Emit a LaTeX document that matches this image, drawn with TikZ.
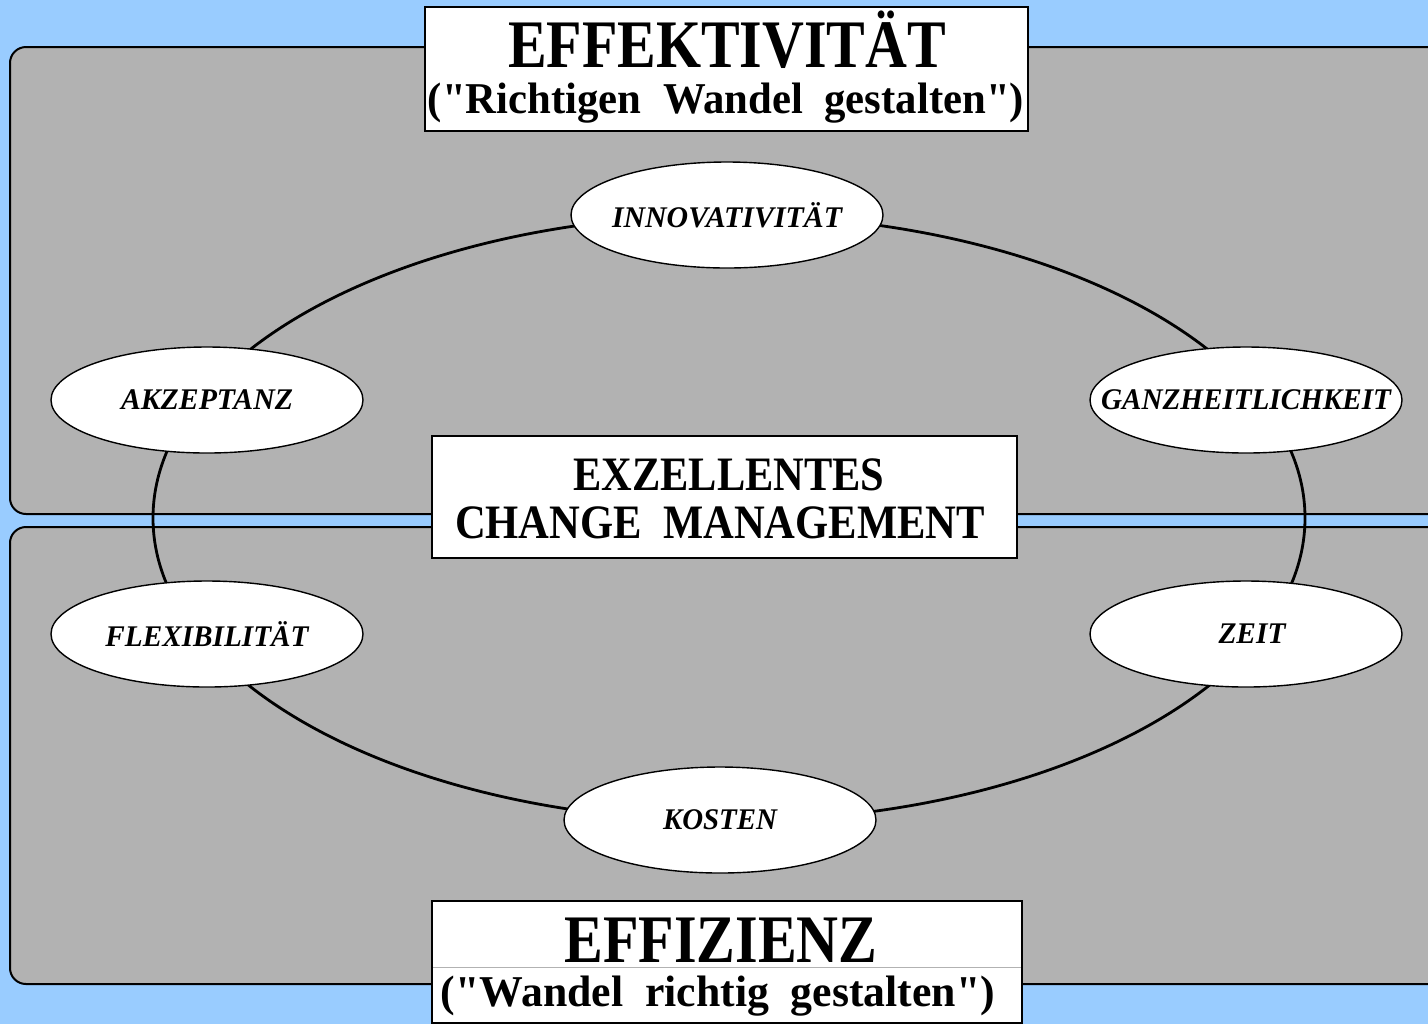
\documentclass[tikz,border=0pt]{standalone}
\usepackage{fontspec}
\setmainfont{Liberation Serif}[Ligatures=TeXOff]
\usetikzlibrary{shapes.geometric}
\definecolor{bgblue}{HTML}{99CCFF}
\definecolor{panelgray}{HTML}{B2B2B2}
\newcommand\fitw[2]{\resizebox{#1}{\height}{#2}}
\newcommand\zerowd[1]{\makebox[0pt]{#1}}
\tikzset{
  panel/.style={draw=black, line width=1pt, fill=panelgray, rounded corners=8pt},
  titlebox/.style={draw=black, line width=1pt, fill=white},
  factor/.style={ellipse, draw=black, line width=0.7pt, fill=white, minimum width=156pt, minimum height=53pt, inner sep=0pt, font=\fontsize{15}{15}\selectfont\bfseries\itshape},
  ring/.style={draw=black, line width=1.4pt},
  bigtxt/.style={anchor=base, inner sep=0pt, font=\fontsize{34}{34}\selectfont\bfseries},
  midtxt/.style={anchor=base, inner sep=0pt, font=\fontsize{24}{24}\selectfont\bfseries},
  subtxt/.style={anchor=base, inner sep=0pt, font=\fontsize{22}{22}\selectfont\bfseries}
}
\begin{document}
\begin{tikzpicture}[x=0.5pt,y=-0.5pt]
\useasboundingbox (0,0) rectangle (1428,1024);
\begin{scope}
\clip (0,0) rectangle (1428,1024);
\fill[bgblue] (0,0) rectangle (1428,1024);
% panels
\draw[panel] (10,47) rectangle (1460,514);
\draw[panel] (10,527) rectangle (1460,984);
% ring
\coordinate (ringc) at (729,518);
\draw[ring] (ringc) ellipse [x radius=576, y radius=303];
% factor ellipses
\node[factor] (inno) at (727,215) {\zerowd{\fitw{115pt}{INNOVATIVITÄT}}};
\node[factor] (akz)  at (207,400) {\zerowd{\fitw{86pt}{AKZEPTANZ}}};
\node[factor] (ganz) at (1246,400) {\zerowd{\fitw{145pt}{GANZHEITLICHKEIT}}};
\node[factor] (flex) at (207,634) {\zerowd{\fitw{101.5pt}{FLEXIBILITÄT}}};
\node[factor] (zeit) at (1246,634) {\zerowd{\hspace*{6pt}\fitw{33.5pt}{ZEIT}}};
\node[factor] (kost) at (720,820) {\zerowd{\fitw{57pt}{KOSTEN}}};
% top box
\draw[titlebox] (425,7) rectangle (1028,131);
\node[bigtxt] (eff) at (727,67) {\fitw{219pt}{EFFEKTIVITÄT}};
\node[subtxt] (effsub) at (726,113) {\fitw{298pt}{("Richtigen\ \ Wandel\ \ gestalten")}};
% center box
\draw[titlebox] (432,436) rectangle (1017,558);
\node[midtxt] (exz) at (729,490) {\fitw{155.5pt}{EXZELLENTES}};
\node[midtxt] (cm) at (720,538) {\fitw{265pt}{CHANGE\ \ MANAGEMENT}};
% bottom box
\draw[titlebox] (432,901) rectangle (1022,1023);
\draw[gray!60, line width=0.5pt] (433,967) -- (1021,967);
\node[bigtxt] (effz) at (721,962) {\fitw{156.5pt}{EFFIZIENZ}};
\node[subtxt] (effzsub) at (718,1006) {\fitw{277pt}{("Wandel\ \ richtig\ \ gestalten")}};
\end{scope}
\end{tikzpicture}
\end{document}
